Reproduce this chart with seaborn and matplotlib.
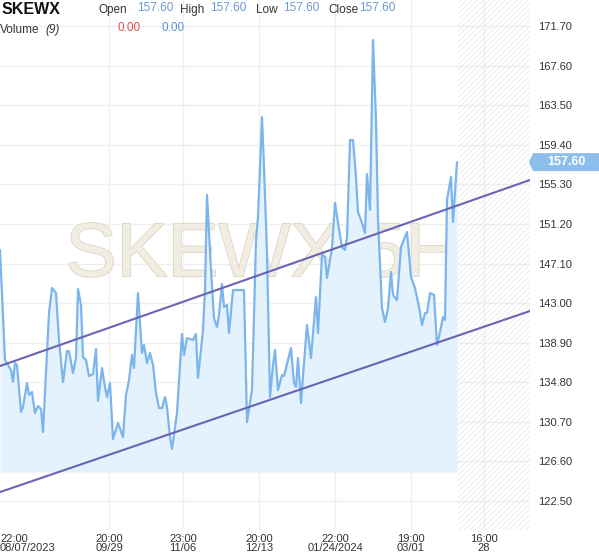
import numpy as np
import pandas as pd
import matplotlib
matplotlib.use("Agg")
import matplotlib.pyplot as plt
import matplotlib.patheffects as pe
from matplotlib.patches import Polygon
import seaborn as sns

# ---------------------------------------------------------
# Data (bar index, close price)
# ---------------------------------------------------------
bar_idx = [0, 5, 8, 11, 13, 15, 17, 21, 23, 27, 29, 32, 35, 38, 41, 43, 49, 52, 56, 59,
           63, 67, 69, 73, 76, 78, 81, 83, 86, 89, 93, 96, 98, 102, 105, 107, 110, 113, 118, 123,
           126, 129, 132, 134, 138, 142, 144, 147, 150, 153, 156, 159, 162, 165, 167, 170, 172, 177, 182, 184,
           187, 193, 196, 198, 203, 205, 207, 211, 214, 217, 219, 222, 224, 227, 229, 233, 244, 247, 252, 256,
           258, 262, 264, 267, 270, 273, 275, 278, 282, 284, 291, 294, 296, 298, 301, 304, 307, 311, 316, 318,
           322, 325, 327, 332, 335, 338, 342, 345, 347, 350, 353, 356, 358, 362, 365, 367, 370, 373, 376, 378,
           382, 385, 388, 391, 393, 397, 401, 407, 411, 415, 419, 422, 425, 427, 430, 434, 437, 440, 443, 445,
           447, 451, 453, 457]
close = [148.50, 137.10, 136.59, 136.07, 134.83, 136.79, 136.59, 131.72, 132.24, 134.72,
         133.48, 133.79, 131.61, 132.34, 132.03, 129.65, 141.97, 144.56, 144.04, 139.18,
         134.83, 138.04, 138.04, 135.76, 137.31, 144.46, 142.80, 137.41, 137.10, 135.45,
         135.65, 138.24, 132.86, 136.28, 134.31, 133.27, 134.72, 128.92, 130.58, 129.13,
         133.48, 135.03, 137.62, 136.28, 144.04, 137.83, 138.66, 136.79, 137.83, 136.59,
         133.69, 132.13, 132.13, 133.27, 132.24, 129.13, 127.89, 131.61, 139.80, 137.62,
         139.38, 139.18, 139.80, 135.24, 140.21, 144.35, 154.20, 146.43, 141.45, 140.52,
         141.77, 144.98, 142.59, 142.80, 139.90, 144.35, 144.35, 130.68, 134.00, 149.53,
         151.92, 162.27, 157.10, 148.19, 133.27, 136.59, 138.14, 134.00, 135.55, 135.45,
         138.35, 134.72, 134.31, 137.31, 132.65, 136.79, 140.73, 137.31, 143.63, 139.90,
         147.98, 147.77, 145.60, 148.70, 153.37, 151.30, 148.81, 148.50, 149.84, 159.89,
         159.89, 156.06, 152.43, 151.30, 150.26, 156.37, 152.64, 170.25, 161.96, 151.60,
         142.49, 141.04, 142.49, 146.22, 143.84, 143.32, 148.81, 150.36, 145.70, 144.56,
         142.59, 140.73, 141.97, 141.97, 144.04, 143.84, 138.66, 140.01, 141.56, 141.25,
         153.68, 156.06, 151.40, 157.60]

# trend channel (start / end)
channel_x = [0, 530]
upper_line = [136.48, 155.75]
lower_line = [123.43, 142.18]
fill_base = 125.5

y_ticks = [122.50, 126.60, 130.70, 134.80, 138.90, 143.00, 147.10, 151.20,
           155.30, 159.40, 163.50, 167.60, 171.70]
x_ticks = [0, 109, 183, 259, 335, 411, 484]
x_labels = ["22:00\n08/07/2023", "20:00\n09/29", "23:00\n11/06", "20:00\n12/13",
            "22:00\n01/24/2024", "19:00\n03/01", "16:00\n28"]
future_start = 458

df = pd.DataFrame({"bar": bar_idx, "close": close})

# ---------------------------------------------------------
# Plot
# ---------------------------------------------------------
sns.set_style("white")
plt.rcParams["font.family"] = ["Liberation Sans", "DejaVu Sans"]
plt.rcParams["hatch.linewidth"] = 0.5

W, H = 599, 557
fig = plt.figure(figsize=(W / 100, H / 100), dpi=100)
ax = fig.add_axes([0, 1 - 530 / H, 530 / W, 530 / H])

ax.set_xlim(0, 530)
ax.set_ylim(119.5, 174.39)

# grid
for v in y_ticks:
    ax.axhline(v, color="#efefef", lw=1, zorder=0)
for v in x_ticks[1:]:
    ax.axvline(v, color="#efefef", lw=1, zorder=0)

# future area hatch
ax.axvspan(future_start, 530, facecolor="none", edgecolor="#e8e8e8",
           hatch="//////", lw=0, zorder=0)

# watermark
wm = ax.text(263, 147.8, "SKEWX 5H", fontsize=55, color="#f1ede3",
             ha="center", va="center", zorder=1)
wm.set_path_effects([pe.Stroke(linewidth=1.2, foreground="#ddd5c2"), pe.Normal()])

ax.fill_between(df["bar"], df["close"], fill_base, color="#e3f2fd", lw=0, zorder=2)
sns.lineplot(data=df, x="bar", y="close", ax=ax, color="#7cb5ec", lw=1.6,
             zorder=3, estimator=None, sort=False)

ax.plot(channel_x, upper_line, color="#6a63b6", lw=1.5, zorder=4)
ax.plot(channel_x, lower_line, color="#6a63b6", lw=1.5, zorder=4)

sns.despine(ax=ax, left=True, bottom=True)
ax.set_xlabel("")
ax.set_ylabel("")

ax.yaxis.tick_right()
ax.set_yticks(y_ticks)
ax.set_yticklabels([f"{v:.2f}" for v in y_ticks], fontsize=8, color="#333333")
ax.tick_params(axis="y", length=0, pad=6)

ax.set_xticks(x_ticks)
ax.set_xticklabels(x_labels, fontsize=8, color="#333333", linespacing=0.85)
ax.tick_params(axis="x", length=0, pad=3)
lbls = ax.get_xticklabels()
lbls[0].set_horizontalalignment("left")
lbls[0].set_multialignment("left")


# header / tag helpers in figure pixels
def px(x, y):
    return x / W, 1 - y / H


# current price tag
last = close[-1]
tag_y = ax.transData.transform((0, last))[1]
tag_y = H - tag_y
tag = Polygon([px(529, tag_y), px(533, tag_y - 9), px(599, tag_y - 9),
               px(599, tag_y + 9), px(533, tag_y + 9)],
              closed=True, transform=fig.transFigure, fc="#8dbfed", ec="none")
fig.patches.append(tag)
fig.text(*px(566, tag_y), f"{last:.2f}", fontsize=9, fontweight="bold",
         color="white", ha="center", va="center")

fig.text(*px(2, 10), "SKEWX", fontsize=11.5, fontweight="bold", color="#111111", va="center")
head = [("Open", 98), ("High", 180), ("Low", 256), ("Close", 328)]
vals_x = [137, 210, 283, 359]
for (name, hx), vx in zip(head, vals_x):
    fig.text(*px(hx, 10), name, fontsize=8.5, color="#333333", va="center")
    fig.text(*px(vx, 8), f"{last:.2f}", fontsize=8.5, color="#6a9ad4", va="center")
fig.text(*px(0, 30), "Volume", fontsize=8.5, color="#333333", va="center")
fig.text(*px(45, 30), "(9)", fontsize=8.5, color="#333333", va="center", style="italic")
fig.text(*px(117, 28), "0.00", fontsize=8.5, color="#e0504f", va="center")
fig.text(*px(162, 28), "0.00", fontsize=8.5, color="#5a8fdc", va="center")

fig.savefig("out.png", dpi=100)
